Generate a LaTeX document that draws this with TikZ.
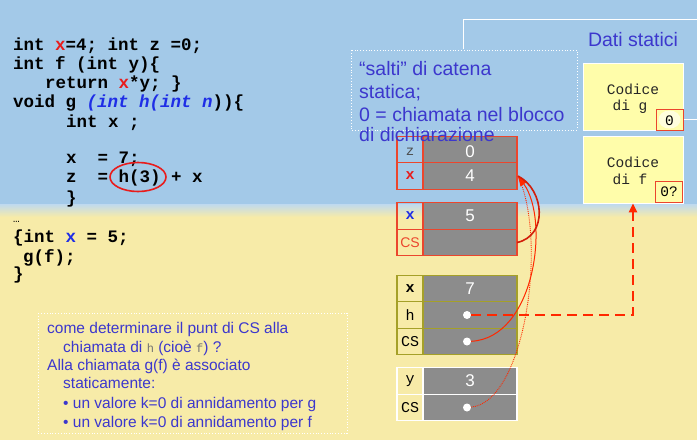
\documentclass[tikz,border=0pt]{standalone}
\usepackage{fontspec}
\setmainfont{Liberation Sans}
\setmonofont{Liberation Mono}
\usetikzlibrary{arrows.meta}
\definecolor{bgblue}{RGB}{163,201,232}
\definecolor{bgyellow}{RGB}{247,235,168}
\definecolor{txtblue}{RGB}{60,55,205}
\definecolor{cred}{RGB}{232,28,28}
\definecolor{cblue}{RGB}{30,45,230}
\definecolor{boxred}{RGB}{235,70,45}
\definecolor{olive}{RGB}{165,160,40}
\definecolor{cellgray}{RGB}{140,140,140}
\definecolor{codyellow}{RGB}{255,253,170}
\definecolor{arrred}{RGB}{255,40,0}
\definecolor{darkred}{RGB}{210,30,10}
\begin{document}
\begin{tikzpicture}[x=1pt,y=-1pt,
  code/.style={anchor=base west, inner sep=0, font=\ttfamily\bfseries\fontsize{17.5}{20}\selectfont},
  lab/.style={font=\ttfamily\fontsize{15}{17}\selectfont},
  labb/.style={font=\ttfamily\bfseries\fontsize{15}{17}\selectfont},
  val/.style={text=white, inner sep=0, font=\fontsize{17}{19}\selectfont},
  cellL/.style={draw, minimum width=26pt, minimum height=26.5pt, inner sep=0, outer sep=0, line width=1.2pt},
  cellR/.style={cellL, fill=cellgray, minimum width=94pt},
  dot/.style={circle, fill=white, inner sep=0, minimum size=8pt},
  btxt/.style={anchor=base west, inner sep=0, text=txtblue, font=\fontsize{15.5}{18}\selectfont},
  stxt/.style={anchor=base west, inner sep=0, text=txtblue, font=\fontsize{19.5}{22}\selectfont},
  codbox/.style={draw=white, fill=codyellow, line width=0.8pt, minimum width=100pt, minimum height=67pt, inner sep=0},
  cod/.style={font=\ttfamily\fontsize{14.5}{17}\selectfont, text=black!85},
  kcell/.style={draw=boxred, line width=1pt, fill=codyellow, minimum width=27pt, minimum height=21pt, inner sep=0, font=\ttfamily\fontsize{14.5}{17}\selectfont}
]
\useasboundingbox (0,0) rectangle (697,440);
% background
\fill[bgblue] (0,0) rectangle (697,204);
\shade[top color=bgblue!70!white, bottom color=bgyellow] (0,204) rectangle (697,217);
\fill[bgyellow] (0,217) rectangle (697,440);

% code
\node[code] (c1) at (13,50) {int \textcolor{cred}{x}=4; int z =0;};
\node[code] (c2) at (13,69) {int f (int y)\{};
\node[code] (c3) at (45,88) {return \textcolor{cred}{x}*y; \}};
\node[code] (c4) at (13,107) {void g \textcolor{cblue}{\itshape (int h(int n}))\{};
\node[code] (c5) at (66,127) {int x ;};
\node[code] (c6) at (66,163) {x\ \ = 7;};
\node[code] (c7) at (66,182) {z\ \ = h(3) + x};
\node[code] (c8) at (66,203) {\}};
\node[code, font=\ttfamily\fontsize{11}{12}\selectfont] (c9) at (13,222) {…};
\node[code] (c10) at (13,242) {\{int \textcolor{cblue}{x} = 5;};
\node[code] (c11) at (23,262) {g(f);};
\node[code] (c12) at (13,279) {\}};
\draw[cred, line width=1.6pt] (138,177) ellipse [x radius=28, y radius=14.5];

% static data
\draw[white, line width=0.8pt] (463,49) -- (463,19) -- (697,19);
\node[text=txtblue, font=\fontsize{19.5}{22}\selectfont] (dati) at (633,40) {Dati statici};
\node[codbox] (codg) at (633,96.5) {};
\node[cod] (cg1) at (633,89) {Codice};
\node[cod] (cg2) at (630,107) {di g};
\node[kcell] (kg) at (669.5,119.5) {};
\fill[white!60!codyellow] (kg.center) ellipse [x radius=11, y radius=9];
\node[font=\ttfamily\fontsize{14.5}{17}\selectfont] (kgt) at (669.5,121) {0};
\draw[white, line width=0.8pt] (kg.east) -- (697,119.5);
\node[codbox] (codf) at (633,169.5) {};
\node[cod] (cf1) at (633,162) {Codice};
\node[cod] (cf2) at (630,179) {di f};
\node[kcell] (kf) at (669,192) {0?};

% record 1
\node[cellL, draw=boxred] (l1) at (410,149.5) {};
\node[text=black!70, inner sep=0, font=\ttfamily\fontsize{14}{16}\selectfont] at (410,152) {z};
\node[cellR, draw=boxred] (v1) at (470,149.5) {};
\node[val] at (470,152) {0};
\node[cellL, draw=boxred] (l2) at (410,176) {\textcolor{cred}{\ttfamily\bfseries\fontsize{15}{17}\selectfont x}};
\node[cellR, draw=boxred] (v2) at (470,176) {};
\node[val] at (v2) {4};
% record 2
\node[cellL, draw=boxred] (l3) at (410,216) {\textcolor{cblue}{\ttfamily\bfseries\fontsize{15}{17}\selectfont x}};
\node[cellR, draw=boxred] (v3) at (470,216) {};
\node[val] at (v3) {5};
\node[cellL, draw=boxred, text=boxred, font=\fontsize{14}{16}\selectfont] (l4) at (410,242.5) {CS};
\node[cellR, draw=boxred] (v4) at (470,242.5) {};
% record 3
\node[cellL, draw=olive, labb] (l5) at (410,288.5) {x};
\node[cellR, draw=olive] (v5) at (470,288.5) {};
\node[val] at (v5) {7};
\node[cellL, draw=olive, lab] (l6) at (410,315) {h};
\node[cellR, draw=olive] (v6) at (470,315) {};
\node[cellL, draw=olive, lab] (l7) at (410,341.5) {CS};
\node[cellR, draw=olive] (v7) at (470,341.5) {};
% record 4
\node[cellL, draw=white, lab] (l8) at (410,381) {y};
\node[cellR, draw=white] (v8) at (470,381) {};
\node[val] at (v8) {3};
\node[cellL, draw=white, lab] (l9) at (410,407.5) {CS};
\node[cellR, draw=white] (v9) at (470,407.5) {};

% salti box (text lies over the stack, as in the reference)
\draw[white, dotted, line width=0.8pt] (351,50) rectangle (577,130);
\node[stxt] (s1) at (359,75) {“salti” di catena};
\node[stxt] (s2) at (359,98) {statica;};
\node[stxt] (s3) at (359,121.5) {0 = chiamata nel blocco};
\node[stxt] (s4) at (359,141.5) {di dichiarazione};

\node[dot] (hdot) at (467,315) {};
\node[dot] (cs3) at (467,341.5) {};
\node[dot] (cs4) at (467,407.5) {};
\coordinate (tip) at (518,176);
\coordinate (corner) at (633,315);

% connectors
\draw[arrred, line width=2.6pt, dash pattern=on 10pt off 6pt, -{Triangle[length=9pt,width=8pt]}] (hdot) -- (corner) -- (corner |- codf.south);
\draw[arrred, line width=0.9pt, densely dotted] (cs4) .. controls (525,402) and (548,240) .. (tip);
\draw[arrred, line width=1pt, -{Triangle[length=10pt,width=8pt]}] (cs3) .. controls (535,338) and (550,220) .. (tip);
\draw[darkred, line width=1.6pt] (v4.east) .. controls (548,236) and (545,190) .. (tip);

% bottom box
\draw[white, dotted, line width=0.8pt] (38,313) rectangle (347,433);
\node[btxt] (b1) at (47,333.5) {come determinare il punt di CS alla};
\node[btxt] (b2) at (63,352.5) {chiamata di \textcolor{black!55}{\ttfamily\fontsize{12}{14}\selectfont h} (cioè \textcolor{black!55}{\ttfamily\fontsize{12}{14}\selectfont f}) ?};
\node[btxt] (b3) at (47,370.5) {Alla chiamata g(f) è associato};
\node[btxt] (b4) at (63,388.5) {staticamente:};
\node[btxt] (b5) at (63,408.5) {• un valore k=0 di annidamento per g};
\node[btxt] (b6) at (63,427.5) {• un valore k=0 di annidamento per f};
\end{tikzpicture}
\end{document}
